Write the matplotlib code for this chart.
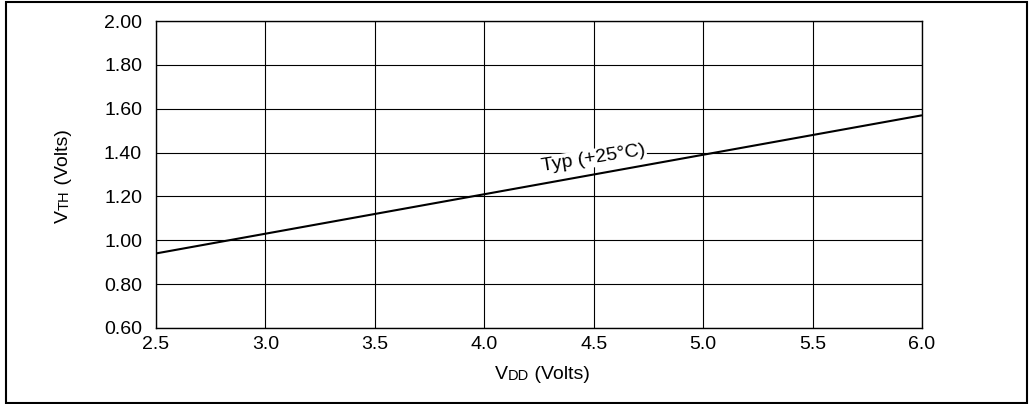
import matplotlib
matplotlib.use("Agg")
import matplotlib.pyplot as plt
from matplotlib.patches import Rectangle

plt.rcParams['font.family'] = ['Liberation Sans', 'DejaVu Sans']

# data
vdd = [2.5, 6.0]
vth = [0.94, 1.57]
x_ticks = [2.5, 3.0, 3.5, 4.0, 4.5, 5.0, 5.5, 6.0]
y_ticks = [0.60, 0.80, 1.00, 1.20, 1.40, 1.60, 1.80, 2.00]
curve_label = 'Typ (+25°C)'

fig = plt.figure(figsize=(10.31, 4.04), dpi=100)
ax = fig.add_axes([156/1031, 1 - 328/404, (922-156)/1031, (328-21)/404])

ax.plot(vdd, vth, color='black', lw=1.5, solid_capstyle='butt', zorder=3)

ax.set_xlim(2.5, 6.0)
ax.set_ylim(0.6, 2.0)
ax.set_xticks(x_ticks)
ax.set_xticklabels(['%.1f' % v for v in x_ticks])
ax.set_yticks(y_ticks)
ax.set_yticklabels(['%.2f' % v for v in y_ticks])
ax.tick_params(length=0, labelsize=14, colors='black')
ax.tick_params(axis='y', pad=10)
ax.tick_params(axis='x', pad=6)
ax.grid(True, color='black', lw=0.8)
for s in ax.spines.values():
    s.set_linewidth(1.0)

# curve label with white box over grid
ax.text(4.5, 1.375, curve_label, rotation=9, fontsize=14, ha='center', va='center',
        bbox=dict(facecolor='white', edgecolor='none', pad=0.5), zorder=4)

# x label: V + small DD + (Volts)
t1 = fig.text(495/1031, 1 - 379/404, 'V', fontsize=14, ha='left', va='baseline')
t2 = ax.annotate('DD', xy=(1, 0), xycoords=t1, fontsize=10.5, ha='left', va='bottom')
t3 = ax.annotate(' (Volts)', xy=(1, 0), xycoords=t2, fontsize=14, ha='left', va='bottom')

# y label: V + small TH + (Volts), rotated
u1 = fig.text(72/1031, 1 - 223/404, 'V', fontsize=14, rotation=90, ha='right', va='bottom')
u2 = ax.annotate('TH', xy=(1, 1), xycoords=u1, fontsize=10.5, rotation=90, ha='right', va='bottom')
u3 = ax.annotate(' (Volts)', xy=(1, 1), xycoords=u2, fontsize=14, rotation=90, ha='right', va='bottom')

# outer frame
fig.patches.append(Rectangle((6/1031, 1/404), 1021/1031, 401/404, transform=fig.transFigure,
                             fill=False, edgecolor='black', lw=1.5))

fig.savefig('out.png', dpi=100)
